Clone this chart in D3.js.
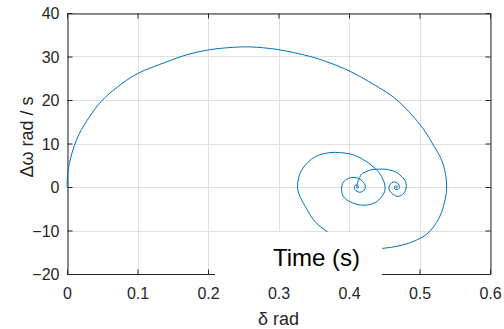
<!DOCTYPE html>
<html>
<head>
<meta charset="utf-8">
<script src="https://cdn.jsdelivr.net/npm/d3@7"></script>
<style>
  html, body { margin: 0; padding: 0; background: #fff; }
  svg { display: block; font-family: "Liberation Sans", Arial, Helvetica, sans-serif; }
</style>
</head>
<body>
<svg id="chart" width="504" height="329"></svg>
<script>
// ---- data ----
const deltaValues = [
  0, 0.0014, 0.0067, 0.017, 0.0326, 0.0492, 0.0709, 0.0993, 0.1418, 0.170, 0.200, 0.235, 0.260,
  0.299, 0.345, 0.370, 0.400, 0.448, 0.468, 0.501, 0.518, 0.533, 0.5386, 0.533, 0.524, 0.512, 0.496, 0.472, 0.448,
  0.423, 0.399, 0.383, 0.369, 0.352, 0.338, 0.3295, 0.327, 0.3305, 0.340, 0.354, 0.373, 0.387,
  0.406, 0.425, 0.4416, 0.4496, 0.451, 0.4464, 0.437, 0.420, 0.406, 0.394, 0.3897, 0.391, 0.397,
  0.406, 0.4156, 0.4227, 0.4217, 0.4156, 0.410, 0.4075, 0.4085, 0.412, 0.4135, 0.412, 0.4107, 0.4113,
  0.412, 0.415, 0.418, 0.4255, 0.4326, 0.4416, 0.451, 0.458, 0.4667, 0.4723, 0.478, 0.481, 0.481,
  0.4794, 0.4759, 0.4723, 0.468, 0.464, 0.4596, 0.4567, 0.4572, 0.4606, 0.4645, 0.468, 0.4709,
  0.4713, 0.4695, 0.4667, 0.4648, 0.4643, 0.4652, 0.4674, 0.4685, 0.4678, 0.4667, 0.4672
];
const omegaValues = [
  0, 3.7, 7.6, 12.1, 16.3, 19.8, 22.9, 26.0, 28.8, 30.4, 31.5, 32.1, 32.2,
  31.6, 30.0, 28.7, 26.7, 22.3, 20.0, 14.3, 10.1, 5.5, 0, -5.0, -8.2, -10.6, -12.2, -13.5, -14.1,
  -14.3, -13.6, -12.2, -10.3, -8.0, -4.5, -1.8, 0, 3.1, 5.4, 7.1, 7.9, 7.9,
  7.4, 5.8, 3.5, 1.2, -0.7, -2.2, -3.6, -4.2, -3.7, -2.6, -1.1, 0.85, 1.8,
  2.2, 1.8, 0.46, -0.7, -1.2, -0.85, -0.16, 0.35, 0.4, 0, -0.28, -0.07, 0,
  0.9, 2.1, 3.0, 3.6, 4.0, 4.1, 4.1, 3.9, 3.45, 2.76, 1.84, 0.85, -0.23,
  -1.08, -1.72, -2.07, -2.14, -1.84, -1.26, -0.46, 0.23, 0.99, 1.15, 0.97, 0.46,
  -0.11, -0.53, -0.6, -0.37, 0, 0.23, 0.28, 0, -0.18, -0.07, 0
];
const xTicks = [0, 0.1, 0.2, 0.3, 0.4, 0.5, 0.6];
const yTicks = [-20, -10, 0, 10, 20, 30, 40];
const xLabel = "δ rad";
const yLabel = "Δω rad / s";
const annotation = "Time (s)";

// ---- layout ----
const W = 504, H = 329;
const m = { left: 67, top: 13, right: 504 - 490, bottom: 329 - 274 };
const pw = W - m.left - m.right, ph = H - m.top - m.bottom;
const axisColor = "#262626";
const tickLen = 5;

const svg = d3.select("#chart");
const x = d3.scaleLinear().domain([0, 0.6]).range([m.left, m.left + pw]);
const y = d3.scaleLinear().domain([-20, 40]).range([m.top + ph, m.top]);

// grid
const grid = svg.append("g").attr("stroke", "#dfdfdf").attr("stroke-width", 1);
grid.selectAll("line.gx").data(xTicks).join("line")
  .attr("x1", d => Math.round(x(d)) + 0.5).attr("x2", d => Math.round(x(d)) + 0.5)
  .attr("y1", m.top).attr("y2", m.top + ph);
grid.selectAll("line.gy").data(yTicks).join("line")
  .attr("y1", d => Math.round(y(d)) + 0.5).attr("y2", d => Math.round(y(d)) + 0.5)
  .attr("x1", m.left).attr("x2", m.left + pw);

// axes (box with inward ticks)
const fmt = d => d3.format("")(d);
const gB = svg.append("g").attr("transform", `translate(0,${m.top + ph + 0.5})`)
  .call(d3.axisBottom(x).tickValues(xTicks).tickSizeInner(-tickLen).tickSizeOuter(0).tickFormat(d => d === 0 ? "0" : d3.format(".1f")(d)));
const gT = svg.append("g").attr("transform", `translate(0,${m.top + 0.5})`)
  .call(d3.axisTop(x).tickValues(xTicks).tickSizeInner(-tickLen).tickSizeOuter(0).tickFormat(""));
const gL = svg.append("g").attr("transform", `translate(${m.left + 0.5},0)`)
  .call(d3.axisLeft(y).tickValues(yTicks).tickSizeInner(-tickLen).tickSizeOuter(0).tickFormat(fmt));
const gR = svg.append("g").attr("transform", `translate(${m.left + pw + 0.5},0)`)
  .call(d3.axisRight(y).tickValues(yTicks).tickSizeInner(-tickLen).tickSizeOuter(0).tickFormat(""));
[gB, gT, gL, gR].forEach(g => {
  g.select(".domain").attr("stroke", axisColor).attr("stroke-width", 1);
  g.selectAll(".tick line").attr("stroke", axisColor).attr("stroke-width", 1);
  g.selectAll(".tick text").attr("fill", axisColor).attr("font-size", 16)
    .attr("font-family", '"Liberation Sans", Arial, sans-serif');
});
gB.selectAll(".tick text").attr("dy", null).attr("y", 24);
gL.selectAll(".tick text").attr("x", -8).attr("dy", "0.35em");

// curve
const pts = deltaValues.map((d, i) => [d, omegaValues[i]]);
const line = d3.line().x(d => x(d[0])).y(d => y(d[1])).curve(d3.curveCatmullRom.alpha(0.5));
svg.append("path").datum(pts)
  .attr("d", line).attr("fill", "none")
  .attr("stroke", "#0072BD").attr("stroke-width", 1);

// annotation with white background
svg.append("rect").attr("x", 215).attr("y", 232).attr("width", 167).attr("height", 52).attr("fill", "#fff");
svg.append("text").attr("x", 273).attr("y", 266).attr("font-size", 24).attr("fill", "#000")
  .text(annotation);

// bring bottom tick labels above the box
gB.raise();
gB.selectAll(".domain").remove();
svg.append("line").attr("x1", m.left).attr("x2", 215).attr("y1", m.top + ph + 0.5).attr("y2", m.top + ph + 0.5)
  .attr("stroke", axisColor);
svg.append("line").attr("x1", 382).attr("x2", m.left + pw + 0.5).attr("y1", m.top + ph + 0.5).attr("y2", m.top + ph + 0.5)
  .attr("stroke", axisColor);
// hide bottom ticks inside box region
gB.selectAll(".tick").filter(d => x(d) > 215 && x(d) < 382).select("line").remove();

// axis labels
svg.append("text").attr("x", x(0.3)).attr("y", 325).attr("text-anchor", "middle")
  .attr("font-size", 18).attr("fill", axisColor).text(xLabel);
svg.append("text").attr("transform", `translate(33,137) rotate(-90)`).attr("text-anchor", "middle")
  .attr("font-size", 18).attr("fill", axisColor).text(yLabel);
</script>
</body>
</html>
